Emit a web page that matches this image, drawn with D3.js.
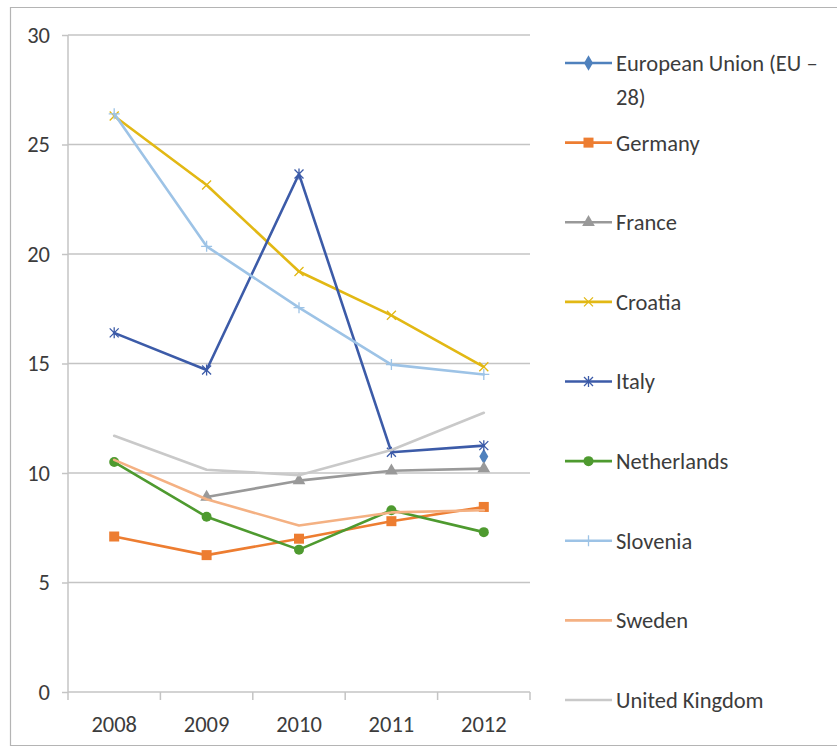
<!DOCTYPE html>
<html>
<head>
<meta charset="utf-8">
<script src="https://cdn.jsdelivr.net/npm/d3@7"></script>
<style>
  html, body { margin: 0; padding: 0; background: #ffffff; }
  svg { display: block; }
  text { font-family: Carlito, Lato, "Open Sans", sans-serif; fill: #3c3c3c; }
</style>
</head>
<body>
<svg id="chart" width="837" height="753"></svg>
<script>
// ---- data ----
const years = ["2008", "2009", "2010", "2011", "2012"];
const yTicks = [0, 5, 10, 15, 20, 25, 30];
const seriesNames = ["European Union (EU \u2013 28)", "Germany", "France", "Croatia", "Italy", "Netherlands", "Slovenia", "Sweden", "United Kingdom"];
const euValues          = [null, null, null, null, 10.75];
const germanyValues     = [7.1, 6.25, 7.0, 7.8, 8.45];
const franceValues      = [null, 8.9, 9.65, 10.1, 10.2];
const croatiaValues     = [26.3, 23.15, 19.2, 17.2, 14.85];
const italyValues       = [16.4, 14.7, 23.65, 10.95, 11.25];
const netherlandsValues = [10.5, 8.0, 6.5, 8.3, 7.3];
const sloveniaValues    = [26.4, 20.35, 17.55, 14.95, 14.5];
const swedenValues      = [10.6, 8.8, 7.6, 8.2, 8.3];
const ukValues          = [11.7, 10.15, 9.9, 11.05, 12.75];

// ---- styles ----
const seriesColors  = ["#4f81bd", "#ed7d31", "#999999", "#e2b814", "#3c5ba8", "#4e9a2f", "#9dc3e6", "#f4b183", "#c9c9c9"];
const seriesMarkers = ["diamond", "square", "triangle", "x", "star", "circle", "plus", "none", "none"];
const fontSize = 22.5;

const allValues = [euValues, germanyValues, franceValues, croatiaValues, italyValues,
                   netherlandsValues, sloveniaValues, swedenValues, ukValues];
const series = seriesNames.map((name, i) => ({
  name, color: seriesColors[i], marker: seriesMarkers[i],
  values: years.map((yr, j) => ({ year: yr, value: allValues[i][j] }))
}));

const svg = d3.select("#chart");

// outer border
svg.append("path")
  .attr("d", "M850,7.5 H10.5 V745.5 H850")
  .attr("fill", "none").attr("stroke", "#b4b4b4").attr("stroke-width", 1.2);

const x = d3.scaleBand().domain(years).range([68, 530]);
const y = d3.scaleLinear().domain([0, 30]).range([692, 35]);
const cx = d => x(d) + x.bandwidth() / 2;

// gridlines
svg.append("g")
  .selectAll("line").data(yTicks.filter(t => t > 0)).join("line")
  .attr("x1", 68).attr("x2", 530)
  .attr("y1", d => y(d)).attr("y2", d => y(d))
  .attr("stroke", "#c4c4c4").attr("stroke-width", 1.5);

// y axis
const yAxis = svg.append("g").attr("transform", "translate(68,0)")
  .call(d3.axisLeft(y).tickValues(yTicks).tickSize(6).tickPadding(12));
yAxis.select(".domain").attr("stroke", "#c4c4c4").attr("stroke-width", 1.5).attr("d", "M0,35V692");
yAxis.selectAll(".tick line").attr("stroke", "#c4c4c4").attr("stroke-width", 1.5);
yAxis.selectAll(".tick text").attr("font-size", fontSize).attr("fill", "#3c3c3c")
  .attr("font-family", "Carlito, Lato, sans-serif");

// x axis
const xAxis = svg.append("g").attr("transform", "translate(0,692)")
  .call(d3.axisBottom(x).tickSize(0).tickPadding(24));
xAxis.select(".domain").attr("stroke", "#c4c4c4").attr("stroke-width", 1.5).attr("d", "M68,0H530");
xAxis.selectAll(".tick text").attr("font-size", fontSize).attr("fill", "#3c3c3c")
  .attr("font-family", "Carlito, Lato, sans-serif");
// category boundary ticks
const bounds = years.map(d => x(d)).concat([x(years[years.length - 1]) + x.bandwidth()]);
svg.append("g").selectAll("line").data(bounds).join("line")
  .attr("x1", d => d).attr("x2", d => d).attr("y1", 692).attr("y2", 700)
  .attr("stroke", "#c4c4c4").attr("stroke-width", 1.5);

// marker drawing
function drawMarker(g, type, color, px, py) {
  const s = 4.5;
  if (type === "diamond") {
    g.append("path").attr("d", d3.symbol(d3.symbolDiamond, 70)()).attr("transform", `translate(${px},${py})`).attr("fill", color);
  } else if (type === "square") {
    g.append("rect").attr("x", px - 5).attr("y", py - 5).attr("width", 10).attr("height", 10).attr("fill", color);
  } else if (type === "triangle") {
    g.append("path").attr("d", d3.symbol(d3.symbolTriangle, 70)()).attr("transform", `translate(${px},${py})`).attr("fill", color);
  } else if (type === "circle") {
    g.append("circle").attr("cx", px).attr("cy", py).attr("r", 5).attr("fill", color);
  } else if (type === "x") {
    g.append("path").attr("d", `M${px - s},${py - s}L${px + s},${py + s}M${px - s},${py + s}L${px + s},${py - s}`)
      .attr("stroke", color).attr("stroke-width", 1.3).attr("fill", "none");
  } else if (type === "star") {
    g.append("path").attr("d", `M${px - s},${py - s}L${px + s},${py + s}M${px - s},${py + s}L${px + s},${py - s}M${px},${py - s - 1}L${px},${py + s + 1}`)
      .attr("stroke", color).attr("stroke-width", 1.3).attr("fill", "none");
  } else if (type === "plus") {
    g.append("path").attr("d", `M${px - s - 1},${py}L${px + s + 1},${py}M${px},${py - s - 1}L${px},${py + s + 1}`)
      .attr("stroke", color).attr("stroke-width", 1.3).attr("fill", "none");
  }
}

// series lines + markers
const line = d3.line().defined(d => d.value != null).x(d => cx(d.year)).y(d => y(d.value));
series.forEach(s => {
  const g = svg.append("g");
  g.append("path").datum(s.values).attr("d", line)
    .attr("fill", "none").attr("stroke", s.color).attr("stroke-width", 2.6)
    .attr("stroke-linejoin", "round").attr("stroke-linecap", "round");
  s.values.filter(d => d.value != null).forEach(d => drawMarker(g, s.marker, s.color, cx(d.year), y(d.value)));
});

// legend
const legendY = d3.scaleLinear().domain([0, 8]).range([63, 700]);
const legend = svg.append("g");
series.forEach((s, i) => {
  const ly = legendY(i);
  legend.append("line").attr("x1", 565).attr("x2", 612).attr("y1", ly).attr("y2", ly)
    .attr("stroke", s.color).attr("stroke-width", 2.6);
  drawMarker(legend, s.marker, s.color, 588.5, ly);
  const t = legend.append("text").attr("x", 616).attr("y", ly).attr("dy", "0.35em")
    .attr("font-size", fontSize).attr("fill", "#3c3c3c");
  if (i === 0) {
    t.append("tspan").attr("x", 616).text("European Union (EU \u2013");
    t.append("tspan").attr("x", 616).attr("dy", "1.5em").text("28)");
  } else {
    t.text(s.name);
  }
});
</script>
</body>
</html>
